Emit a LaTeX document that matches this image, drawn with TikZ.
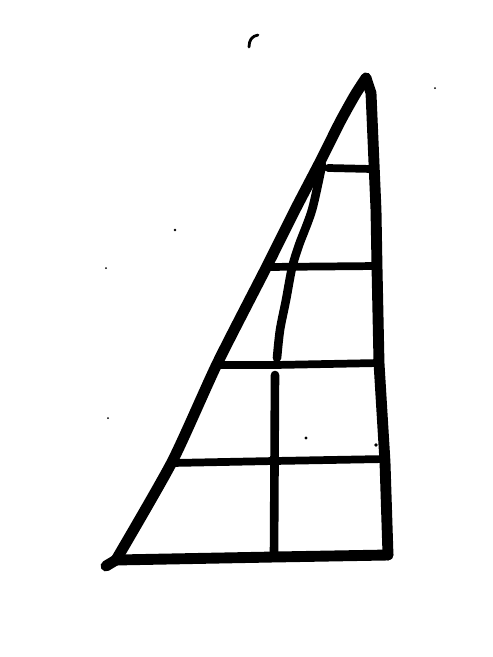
\documentclass[tikz,border=0pt]{standalone}
\usepackage{tikz}

\begin{document}
\begin{tikzpicture}[
    x=0.02cm, y=-0.02cm,
    pen/.style={line width=6.2pt, line cap=round, line join=round},
    rung/.style={line width=4.4pt, line cap=round, line join=round},
    speck/.style={fill=black}
]
    \useasboundingbox (0,0) rectangle (493,657);

    % corners of the triangle
    \coordinate (apex) at (366,78);
    \coordinate (bl) at (116,560);
    \coordinate (br) at (388,555);
    \coordinate (foot) at (274,557);

    % outline
    \draw[pen] plot[smooth, tension=0.4] coordinates {(bl) (172,462) (217,364) (266,268) (295,210) (320,162) (340,122) (355,95) (apex)};
    \draw[pen] (apex) -- (371,93) -- (376,210) -- (377,267) -- (379,363) -- (385,462) -- (br);
    \draw[pen] (bl) -- (foot) -- (br);
    \draw[pen] (bl) -- (106,566);

    % rungs
    \draw[rung] (328,168) -- (372,169);
    \draw[rung] (266,267) -- (377,266);
    \draw[rung] (215,365) -- (275,365) -- (379,363);
    \draw[rung] (172,463) -- (274,461) -- (385,459);

    % inner line
    \draw[pen, line width=4.9pt] (foot) -- (275,375);
    \draw[pen, line width=4.9pt] plot[smooth] coordinates {(277,358) (280,330) (286,300) (292,268) (299,245) (312,210) (322,165)};

    % specks
    \draw[line width=1.6pt, line cap=round] (249,47) .. controls (249,40) and (252,36) .. (258,35);
    \fill[speck] (175,230) circle (1.4);
    \fill[speck] (106,268) circle (1);
    \fill[speck] (435,88) circle (1);
    \fill[speck] (108,418) circle (1);
    \fill[speck] (306,438) circle (1.6);
    \fill[speck] (376,445) circle (1.8);
\end{tikzpicture}
\end{document}
